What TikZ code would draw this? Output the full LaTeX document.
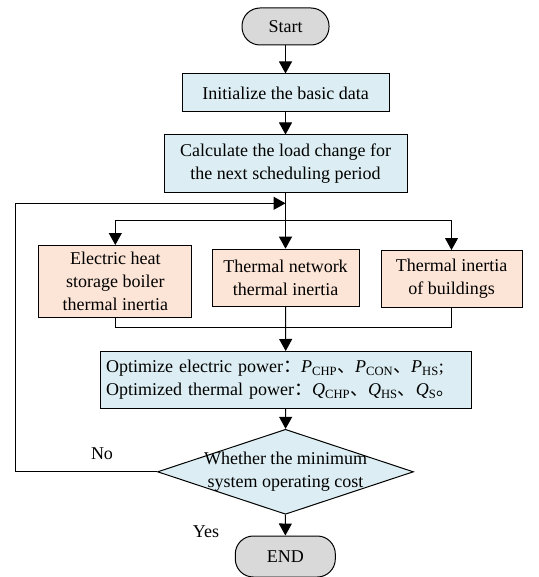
\documentclass[tikz,border=0pt]{standalone}
\usepackage{fontspec}
\setmainfont{Liberation Serif}
\newfontfamily\cjk{Noto Sans CJK SC}
\usetikzlibrary{arrows.meta,shapes.geometric}

\definecolor{boxblue}{RGB}{220,238,243}
\definecolor{boxorange}{RGB}{252,228,214}
\definecolor{termgrey}{RGB}{217,217,217}

\newcommand{\pw}[2]{\textit{#1}\textsubscript{#2}}
\newcommand{\dun}{{\cjk 、}}

\tikzset{
  flow/.style={draw=black, line width=1pt},
  arr/.style={flow, -{Triangle[length=12pt,width=13pt]}},
  process/.style={draw, line width=1pt, fill=boxblue, align=center, inner sep=0pt},
  inertia/.style={process, fill=boxorange},
  terminal/.style={draw, line width=1pt, fill=termgrey, rounded corners=18pt, inner sep=0pt},
  decision/.style={diamond, draw, line width=1pt, fill=boxblue, inner sep=0pt,
    minimum width=256pt, minimum height=85pt},
}

\begin{document}
\begin{tikzpicture}[x=1pt,y=1pt,yscale=-1,font=\fontsize{18}{23}\selectfont]
    \useasboundingbox (0,0) rectangle (538,577);

    % Nodes
    \node[terminal, minimum width=87pt, minimum height=37pt] (start) at (285.5,26.5) {Start};
    \node[process, minimum width=207pt, minimum height=38pt] (init) at (285.5,93) {Initialize the basic data};
    \node[process, minimum width=243pt, minimum height=58pt] (calc) at (285.5,164) {Calculate the load change for\\the next scheduling period};
    \node[inertia, minimum width=153pt, minimum height=72pt] (boiler) at (115.3,281.5) {Electric heat\\storage boiler\\thermal inertia};
    \node[inertia, minimum width=147pt, minimum height=57pt] (network) at (285.5,277.7) {Thermal network\\thermal inertia};
    \node[inertia, minimum width=141pt, minimum height=57pt] (building) at (451.5,279) {Thermal inertia\\of buildings};
    \node[process, align=left, text width=359pt, inner xsep=6pt, minimum height=57pt] (opt) at (285.7,380)
      {Optimize electric power{\cjk ：}\pw{P}{CHP}\dun\pw{P}{CON}\dun\pw{P}{HS};\\
       Optimized thermal power{\cjk ：}\pw{Q}{CHP}\dun\pw{Q}{HS}\dun\pw{Q}{S}{\cjk 。}};
    \node[decision, label={[align=center]center:Whether the minimum\\system operating cost}] (dec) at (285.5,471.8) {};
    \node[terminal, minimum width=100pt, minimum height=41pt] (end) at (285.3,556.5) {END};
    \node (no) at (102,454) {No};
    \node (yes) at (206,532) {Yes};

    % Helper points
    \coordinate (back) at (15.7,203.3);
    \coordinate (split) at (285.5,220.7);
    \coordinate (join) at (285.5,327.7);

    % Connectors
    \draw[arr] (start) -- (init);
    \draw[arr] (init) -- (calc);
    \draw[arr] (calc) -- (network);
    \draw[flow] (boiler.north |- split) -- (building.north |- split);
    \draw[arr] (boiler.north |- split) -- (boiler.north);
    \draw[arr] (building.north |- split) -- (building.north);
    \draw[flow] (boiler.south) |- (join) -| (building.south);
    \draw[arr] (network.south) -- (opt.north);
    \draw[arr] (opt) -- (dec);
    \draw[arr] (dec) -- (end);
    \draw[arr] (dec.west) -| (back) -- (calc.south |- back);
\end{tikzpicture}
\end{document}
